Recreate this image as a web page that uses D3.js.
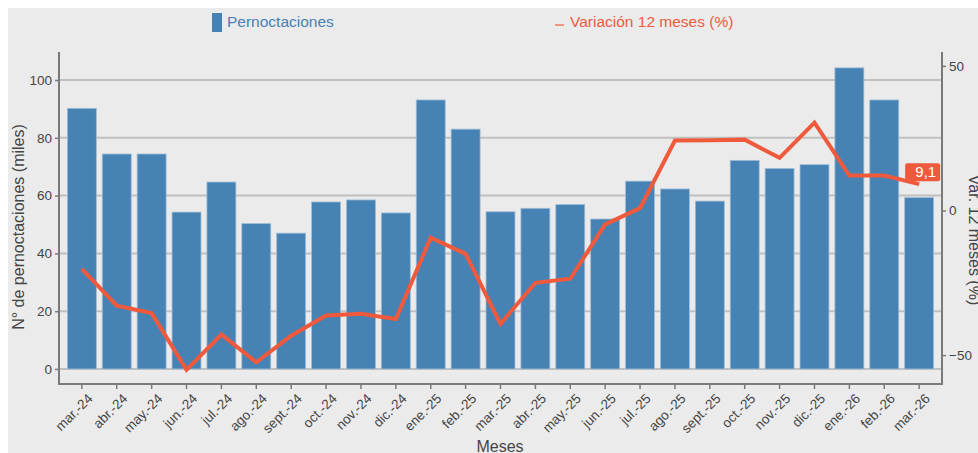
<!DOCTYPE html>
<html lang="es">
<head>
<meta charset="UTF-8">
<script src="https://d3js.org/d3.v7.min.js"></script>
<style>
  body { margin: 0; background: #fff; }
  svg { display: block; font-family: "Liberation Sans", Arial, sans-serif; }
</style>
</head>
<body>
<svg id="chart" width="978" height="453"></svg>
<script>
var meses = ["mar.-24","abr.-24","may.-24","jun.-24","jul.-24","ago.-24","sept.-24","oct.-24","nov.-24","dic.-24",
             "ene.-25","feb.-25","mar.-25","abr.-25","may.-25","jun.-25","jul.-25","ago.-25","sept.-25","oct.-25",
             "nov.-25","dic.-25","ene.-26","feb.-26","mar.-26"];
var pernoctaciones = [90.2,74.4,74.4,54.3,64.7,50.3,47.0,57.8,58.5,54.0,
                      93.1,83.0,54.4,55.6,56.9,51.9,65.0,62.3,58.1,72.2,
                      69.4,70.7,104.2,93.1,59.3];
var variacion = [-20.2,-32.9,-35.5,-55.1,-42.9,-52.5,-43.3,-36.3,-35.7,-37.5,
                 -9.4,-15.0,-39.2,-25.0,-23.6,-4.8,0.8,24.2,24.3,24.5,
                 18.2,30.4,12.1,12.1,9.1];
var ticksIzq = [0,20,40,60,80,100];
var ticksDer = [-50,0,50];

var svg = d3.select('#chart');
var blue = '#4682b4', red = '#ef5a3d', axisCol = '#7a7a7a', txt = '#454545';

svg.append('rect').attr('x', 8).attr('y', 8).attr('width', 970).attr('height', 445).attr('fill', '#ebebeb');

var mLeft = 59, mRight = 942, mTop = 52, mBottom = 384;

var x = d3.scaleBand().domain(meses).range([mLeft, mRight]).paddingInner(0.17).paddingOuter(0.24);
var y = d3.scaleLinear().domain([-5.2, 109.7]).range([mBottom, mTop]);
var y2 = d3.scaleLinear().domain([-60, 54.8]).range([mBottom, mTop]);

// grid
svg.append('g').selectAll('line').data(ticksIzq).enter().append('line')
    .attr('x1', mLeft).attr('x2', mRight)
    .attr('y1', function(d){ return y(d); }).attr('y2', function(d){ return y(d); })
    .attr('stroke', '#c0c0c0').attr('stroke-width', 2);

// bars
svg.append('g').selectAll('rect').data(pernoctaciones).enter().append('rect')
    .attr('x', function(d, i){ return x(meses[i]); })
    .attr('width', x.bandwidth())
    .attr('y', function(d){ return y(d); })
    .attr('height', function(d){ return y(0) - y(d); })
    .attr('fill', blue)
    .attr('stroke', '#9fbdd6').attr('stroke-width', 0.8);

// line
var line = d3.line()
    .x(function(d, i){ return x(meses[i]) + x.bandwidth() / 2; })
    .y(function(d){ return y2(d); });
svg.append('path').datum(variacion)
    .attr('d', line).attr('fill', 'none')
    .attr('stroke', red).attr('stroke-width', 4).attr('stroke-linejoin', 'miter');

// last value label
var lastI = variacion.length - 1;
var lx = x(meses[lastI]) + x.bandwidth() / 2, ly = y2(variacion[lastI]);
var lab = svg.append('g').attr('transform', 'translate(' + (lx - 14) + ',' + (ly - 21) + ')');
lab.append('rect').attr('x', 0).attr('y', 0).attr('width', 35).attr('height', 18).attr('rx', 2).attr('fill', red);
lab.append('text').attr('x', 31).attr('y', 14).attr('text-anchor', 'end')
    .attr('fill', '#fff').attr('font-size', 15).text(String(variacion[lastI]).replace('.', ','));

// axes
function styleAxis(g) {
    g.select('.domain').remove();
    g.selectAll('.tick line').attr('stroke', axisCol).attr('stroke-width', 1.5);
    g.selectAll('.tick text').attr('fill', txt).attr('font-size', 13.5)
        .attr('font-family', '"Liberation Sans", Arial, sans-serif');
}
svg.append('g').attr('transform', 'translate(' + mLeft + ',0)')
    .call(d3.axisLeft(y).tickValues(ticksIzq).tickSize(4).tickPadding(3))
    .call(styleAxis);
svg.append('g').attr('transform', 'translate(' + mRight + ',0)')
    .call(d3.axisRight(y2).tickValues(ticksDer).tickSize(4).tickPadding(3))
    .call(styleAxis);
var gx = svg.append('g').attr('transform', 'translate(0,' + mBottom + ')')
    .call(d3.axisBottom(x).tickSize(5).tickPadding(2))
    .call(styleAxis);
gx.selectAll('.tick text')
    .attr('text-anchor', 'end').attr('dx', '-0.2em').attr('dy', '0.9em')
    .attr('transform', 'rotate(-45)');

// axis lines
svg.append('path').attr('d', 'M' + mLeft + ',' + mTop + 'V' + mBottom + 'H' + mRight + 'V' + mTop)
    .attr('fill', 'none').attr('stroke', axisCol).attr('stroke-width', 2);

// titles
svg.append('text').attr('x', 500).attr('y', 452).attr('text-anchor', 'middle')
    .attr('fill', txt).attr('font-size', 16).text('Meses');
svg.append('text').attr('transform', 'translate(24,227) rotate(-90)').attr('text-anchor', 'middle')
    .attr('fill', txt).attr('font-size', 16).text('N° de pernoctaciones (miles)');
svg.append('text').attr('transform', 'translate(969,240) rotate(90)').attr('text-anchor', 'middle')
    .attr('fill', txt).attr('font-size', 16).text('Var. 12 meses (%)');

// legend
svg.append('rect').attr('x', 212).attr('y', 13).attr('width', 10).attr('height', 19).attr('fill', blue);
svg.append('text').attr('x', 227).attr('y', 27).attr('fill', blue).attr('font-size', 15.5).text('Pernoctaciones');
svg.append('line').attr('x1', 555).attr('x2', 564).attr('y1', 25).attr('y2', 25).attr('stroke', red).attr('stroke-width', 1.2);
svg.append('text').attr('x', 570).attr('y', 27).attr('fill', red).attr('font-size', 15.5).text('Variación 12 meses (%)');
</script>
</body>
</html>
